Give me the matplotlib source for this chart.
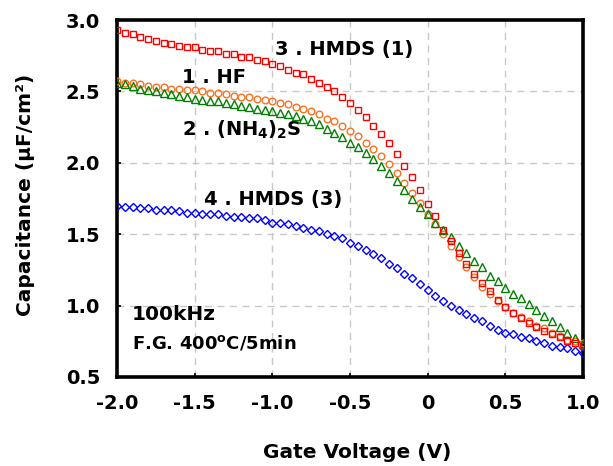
import numpy as np
import matplotlib
matplotlib.use('Agg')
import matplotlib.pyplot as plt

# Gate voltage sweep (V)
voltage = np.round(np.arange(-2.0, 1.0001, 0.05), 2)

# 1 . HF
cap_hf = [2.57, 2.56, 2.56, 2.55, 2.54, 2.53, 2.53, 2.52, 2.52, 2.51,
          2.51, 2.50, 2.49, 2.49, 2.48, 2.47, 2.46, 2.46, 2.45, 2.44,
          2.43, 2.42, 2.41, 2.39, 2.38, 2.36, 2.34, 2.31, 2.29, 2.26,
          2.22, 2.19, 2.14, 2.10, 2.05, 1.99, 1.93, 1.86, 1.79, 1.72,
          1.64, 1.57, 1.50, 1.42, 1.34, 1.27, 1.20, 1.13, 1.08, 1.03,
          0.99, 0.95, 0.92, 0.89, 0.86, 0.84, 0.81, 0.79, 0.76, 0.75, 0.74]

# 2 . (NH4)2S
cap_nh4s = [2.56, 2.55, 2.54, 2.52, 2.51, 2.50, 2.49, 2.48, 2.47, 2.46,
            2.45, 2.44, 2.43, 2.43, 2.42, 2.41, 2.40, 2.39, 2.38, 2.37,
            2.36, 2.35, 2.34, 2.33, 2.31, 2.29, 2.27, 2.24, 2.21, 2.18,
            2.14, 2.11, 2.07, 2.03, 1.98, 1.93, 1.87, 1.81, 1.75, 1.69,
            1.64, 1.58, 1.53, 1.48, 1.42, 1.37, 1.31, 1.27, 1.21, 1.17,
            1.12, 1.08, 1.05, 1.01, 0.97, 0.93, 0.89, 0.85, 0.81, 0.77, 0.73]

# 3 . HMDS (1)
cap_hmds1 = [2.93, 2.91, 2.90, 2.88, 2.87, 2.85, 2.84, 2.83, 2.82, 2.81,
             2.81, 2.79, 2.78, 2.78, 2.76, 2.76, 2.74, 2.74, 2.72, 2.71,
             2.69, 2.68, 2.65, 2.63, 2.62, 2.59, 2.56, 2.53, 2.50, 2.46,
             2.42, 2.37, 2.32, 2.26, 2.20, 2.14, 2.06, 1.98, 1.90, 1.81,
             1.71, 1.63, 1.53, 1.45, 1.37, 1.29, 1.22, 1.16, 1.10, 1.04,
             0.99, 0.95, 0.91, 0.88, 0.85, 0.82, 0.80, 0.78, 0.75, 0.74, 0.72]

# 4 . HMDS (3)
cap_hmds3 = [1.70, 1.69, 1.69, 1.68, 1.68, 1.67, 1.67, 1.67, 1.66, 1.65,
             1.65, 1.64, 1.64, 1.64, 1.63, 1.62, 1.62, 1.61, 1.61, 1.60,
             1.58, 1.58, 1.57, 1.56, 1.54, 1.53, 1.52, 1.50, 1.49, 1.47,
             1.44, 1.42, 1.39, 1.36, 1.33, 1.29, 1.26, 1.22, 1.19, 1.15,
             1.11, 1.07, 1.03, 1.00, 0.97, 0.94, 0.91, 0.89, 0.86, 0.83,
             0.81, 0.80, 0.78, 0.77, 0.75, 0.74, 0.72, 0.71, 0.70, 0.68, 0.67]

x_ticks = [-2.0, -1.5, -1.0, -0.5, 0.0, 0.5, 1.0]
x_tick_labels = ['-2.0', '-1.5', '-1.0', '-0.5', '0', '0.5', '1.0']
y_ticks = [0.5, 1.0, 1.5, 2.0, 2.5, 3.0]
y_tick_labels = ['0.5', '1.0', '1.5', '2.0', '2.5', '3.0']

# the original text is a wide bold sans, DejaVu Sans Bold gets closest in extent
plt.rcParams['font.family'] = ['DejaVu Sans']
plt.rcParams['font.weight'] = 'bold'
plt.rcParams['mathtext.fontset'] = 'custom'
plt.rcParams['mathtext.rm'] = 'DejaVu Sans:bold'
plt.rcParams['mathtext.it'] = 'DejaVu Sans:bold'
plt.rcParams['mathtext.bf'] = 'DejaVu Sans:bold'
plt.rcParams['mathtext.default'] = 'rm'


def main():
    fig = plt.figure(figsize=(6.13, 4.66), dpi=100)
    ax = fig.add_axes([117 / 613, 1 - 377 / 466, 466 / 613, 357 / 466])

    # Series (drawn in legend order)
    ax.plot(voltage, cap_hf, linestyle='none', marker='o', ms=4.8, mfc='none',
            mec='#FF7020', mew=1.0, zorder=3)
    ax.plot(voltage, cap_nh4s, linestyle='none', marker='^', ms=5.6, mfc='none',
            mec='#008000', mew=1.0, zorder=3)
    ax.plot(voltage, cap_hmds1, linestyle='none', marker='s', ms=4.9, mfc='none',
            mec='#FF0000', mew=1.0, zorder=4)
    ax.plot(voltage, cap_hmds3, linestyle='none', marker='D', ms=3.9, mfc='none',
            mec='#0000FF', mew=1.0, zorder=3)

    ax.set_xlim(-2.0, 1.0)
    ax.set_ylim(0.5, 3.0)
    ax.set_xticks(x_ticks)
    ax.set_xticklabels(x_tick_labels)
    ax.set_yticks(y_ticks)
    ax.set_yticklabels(y_tick_labels)
    ax.tick_params(axis='both', direction='in', length=3, width=1.2,
                   labelsize=14, pad=12)

    ax.grid(True, color='#C8C8C8', linestyle=(0, (5, 4)), linewidth=1.0)
    ax.set_axisbelow(True)
    for sp in ax.spines.values():
        sp.set_linewidth(2.6)
        sp.set_color('black')

    ax.set_xlabel('Gate Voltage (V)', fontsize=14.5, fontweight='bold')
    ax.set_ylabel('Capacitance (\u00b5F/cm\u00b2)', fontsize=14.5, fontweight='bold')
    ax.xaxis.set_label_coords(0.515, -0.185)
    ax.yaxis.set_label_coords(-0.176, 0.51)

    # Annotations, placed in axes fractions
    txt = dict(fontsize=14, fontweight='bold', va='center', ha='left')
    ax.text(0.339, 0.918, '3 . HMDS (1)', transform=ax.transAxes, **txt)
    ax.text(0.140, 0.840, '1 . HF', transform=ax.transAxes, **txt)
    ax.text(0.140, 0.692, r'2 . (NH$_4$)$_2$S', transform=ax.transAxes, **txt)
    ax.text(0.187, 0.498, '4 . HMDS (3)', transform=ax.transAxes, **txt)
    ax.text(0.032, 0.174, '100kHz', transform=ax.transAxes,
            fontsize=14.5, fontweight='bold', va='center', ha='left')
    ax.text(0.032, 0.095, r'F.G. 400$^{\rm o}$C/5min', transform=ax.transAxes,
            fontsize=13, fontweight='bold', va='center', ha='left')

    fig.savefig('out.png', dpi=100)


if __name__ == "__main__":
    main()
